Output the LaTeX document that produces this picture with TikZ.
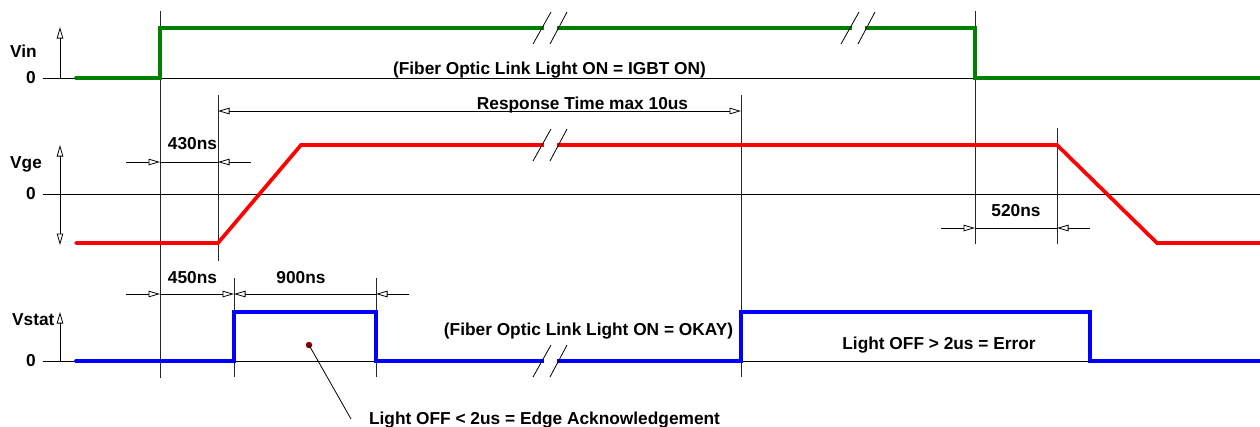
\documentclass[tikz,border=0pt]{standalone}
\usepackage{fontspec}
\setmainfont{Liberation Sans}
\usetikzlibrary{arrows.meta}
\definecolor{sgreen}{RGB}{0,128,0}
\definecolor{sred}{RGB}{255,0,0}
\definecolor{sblue}{RGB}{0,0,255}
\definecolor{dotred}{RGB}{140,0,0}
\begin{document}
\begin{tikzpicture}[x=1pt,y=-1pt,
  font=\fontsize{17.3}{20}\selectfont\bfseries,
  thinl/.style={line width=0.8pt, black},
  guide/.style={line width=0.8pt, black!85},
  tipend/.style={-{Triangle[open,length=11.5pt,width=6.5pt,line width=0.8pt]}},
  bothtip/.style={{Triangle[open,length=11.5pt,width=6.5pt,line width=0.8pt]}-{Triangle[open,length=11.5pt,width=6.5pt,line width=0.8pt]}},
  sig/.style={line width=3.7pt, line cap=round, line join=miter},
  lbl/.style={anchor=base, inner sep=0pt},
  brk/.pic={\fill[white] (-6,-4) rectangle (7,4);
            \draw[line width=0.8pt,black] (-17,16) -- (1,-16) (0,16) -- (17,-16);}
]
\useasboundingbox (0,0) rectangle (1260,426);

% zero lines
\draw[thinl] (43,78) -- (1260,78);
\draw[thinl] (43,194) -- (1260,194);
\draw[thinl] (43,361) -- (1260,361);

% guide verticals
\draw[guide] (160,11) -- (160,378);
\draw[guide] (975,11) -- (975,244);
\draw[guide] (218,95) -- (218,261);
\draw[guide] (741,95) -- (741,377);
\draw[guide] (1057,128) -- (1057,244);
\draw[guide] (234,278) -- (234,377);
\draw[guide] (376,278) -- (376,377);

% axes
\draw[thinl,tipend] (60,78) -- (60,27);
\draw[thinl,bothtip] (60,145) -- (60,245);
\draw[thinl,tipend] (60,361) -- (60,312);

% signals
\draw[sig,sgreen] (76,78) -- (160,78) -- (160,28) -- (975,28) -- (975,78) -- (1262,78);
\draw[sig,sred] (76,243) -- (218,243) -- (301,145) -- (1057,145) -- (1157,243) -- (1262,243);
\draw[sig,sblue] (76,361) -- (234,361) -- (234,312) -- (376,312) -- (376,361)
  -- (741,361) -- (741,312) -- (1090,312) -- (1090,361) -- (1262,361);

% breaks
\pic at (550,28) {brk};
\pic at (858,28) {brk};
\pic at (550,145) {brk};
\pic at (550,361) {brk};

% dimension: Response time
\draw[thinl,bothtip] (218,111) -- (741,111);
% 430ns
\draw[thinl,tipend] (126,162) -- (160,162);
\draw[thinl] (160,162) -- (218,162);
\draw[thinl,tipend] (251,162) -- (218,162);
% 520ns
\draw[thinl,tipend] (941,228) -- (975,228);
\draw[thinl] (975,228) -- (1057,228);
\draw[thinl,tipend] (1090,228) -- (1057,228);
% 450ns / 900ns
\draw[thinl,tipend] (126,294) -- (160,294);
\draw[thinl,tipend] (160,294) -- (234,294);
\draw[thinl,tipend] (376,294) -- (234,294);
\draw[thinl,tipend] (409,294) -- (376,294);

% leader
\node[circle, fill=dotred, inner sep=0pt, minimum size=6.5pt] (dot) at (309,345) {};
\coordinate (ldr) at (351,419);
\draw[thinl] (dot.center) -- (ldr);

% labels
\node[lbl, anchor=base west] (vin) at (10,57.5) {Vin};
\node[inner sep=0pt, anchor=east] (z1) at (36,78) {0};
\node[lbl, anchor=base west] (vge) at (10,168) {Vge};
\node[inner sep=0pt, anchor=east] (z2) at (36,194) {0};
\node[lbl, anchor=base west] (vstat) at (12,325) {Vstat};
\node[inner sep=0pt, anchor=east] (z3) at (36,361) {0};

\node[lbl] (t1) at (549.5,74.5) {(Fiber Optic Link Light ON = IGBT ON)};
\node[lbl] (t2) at (582.5,109) {Response Time max 10us};
\node[lbl] (t3) at (192.5,149) {430ns};
\node[lbl] (t4) at (1016,216.5) {520ns};
\node[lbl] (t5) at (192.5,283) {450ns};
\node[lbl] (t6) at (301,283) {900ns};
\node[lbl] (t7) at (588.5,335) {(Fiber Optic Link Light ON = OKAY)};
\node[lbl] (t8) at (939,349) {Light OFF > 2us = Error};
\node[lbl] (t9) at (544.5,424) {Light OFF < 2us = Edge Acknowledgement};
\end{tikzpicture}
\end{document}
